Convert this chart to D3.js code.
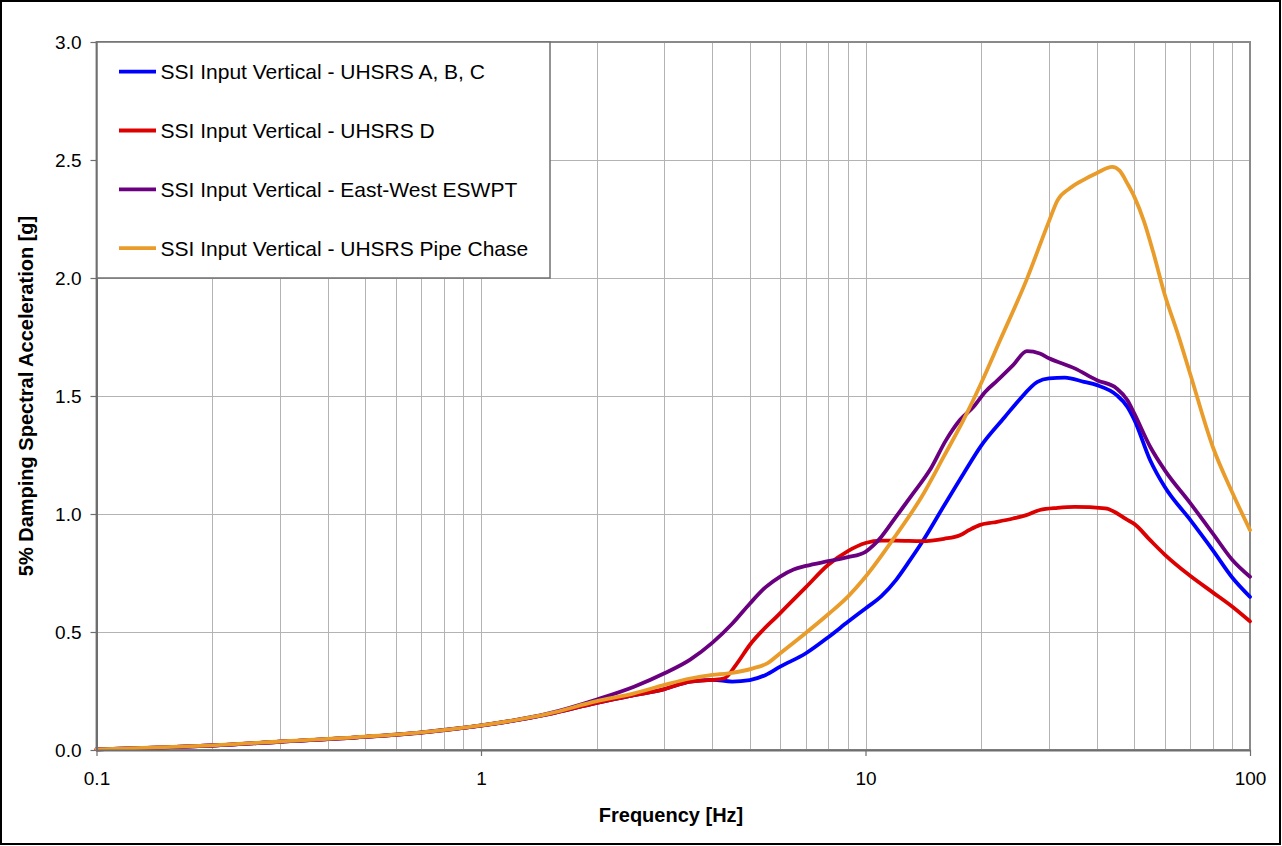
<!DOCTYPE html>
<html>
<head>
<meta charset="utf-8">
<script src="https://cdn.jsdelivr.net/npm/d3@7"></script>
<style>
  html, body { margin: 0; padding: 0; background: #fff; }
  svg { display: block; font-family: Arial, "Liberation Sans", sans-serif; }
</style>
</head>
<body>
<svg id="chart" width="1282" height="846"></svg>
<script>
// Frequency [Hz] and 5%-damped spectral acceleration [g] for each SSI input spectrum
const seriesNames = [
  "SSI Input Vertical - UHSRS A, B, C",
  "SSI Input Vertical - UHSRS D",
  "SSI Input Vertical - East-West ESWPT",
  "SSI Input Vertical - UHSRS Pipe Chase"
];
const seriesColors = ["#0000ff", "#dd0000", "#6a0080", "#e99c2a"];

const freqABC = [0.1, 0.15, 0.2, 0.3, 0.5, 0.7, 1, 1.5, 2, 2.5, 3, 3.5, 4, 4.5, 5, 5.5, 6, 7, 8, 9, 10, 11, 12, 13, 14, 16, 18, 20, 23, 25, 28, 30, 33, 37, 40, 45, 48, 50, 55, 60, 70, 80, 90, 100];
const accABC  = [0.003, 0.011, 0.019, 0.035, 0.056, 0.074, 0.103, 0.152, 0.2, 0.232, 0.258, 0.29, 0.297, 0.29, 0.296, 0.318, 0.353, 0.41, 0.478, 0.543, 0.6, 0.652, 0.72, 0.8, 0.878, 1.035, 1.172, 1.29, 1.41, 1.48, 1.56, 1.575, 1.578, 1.56, 1.546, 1.504, 1.454, 1.4, 1.228, 1.115, 0.974, 0.847, 0.73, 0.649];

const freqD = [0.1, 0.15, 0.2, 0.3, 0.5, 0.7, 1, 1.5, 2, 2.5, 3, 3.5, 4, 4.3, 4.6, 5, 6, 7, 8, 9, 10, 11, 12, 14, 16, 17.6, 18.6, 19.8, 21.5, 24.2, 26.2, 28.4, 31.6, 35, 42, 48, 50, 55, 60, 70, 80, 90, 100];
const accD  = [0.003, 0.011, 0.019, 0.035, 0.056, 0.074, 0.103, 0.152, 0.2, 0.232, 0.258, 0.29, 0.297, 0.304, 0.36, 0.445, 0.58, 0.69, 0.785, 0.843, 0.877, 0.887, 0.887, 0.885, 0.895, 0.91, 0.932, 0.953, 0.964, 0.981, 0.995, 1.017, 1.026, 1.03, 1.024, 0.975, 0.958, 0.889, 0.828, 0.737, 0.668, 0.607, 0.545];

const freqESWPT = [0.1, 0.15, 0.2, 0.3, 0.5, 0.7, 1, 1.5, 2, 2.5, 3, 3.5, 4, 4.5, 5, 5.5, 6, 6.5, 7, 8, 9, 10, 10.5, 11, 12, 13.3, 14.7, 16.2, 17.6, 19.1, 20.5, 22, 24.2, 26.3, 28.4, 30, 35, 40, 45, 48, 50, 55, 60, 70, 80, 90, 100];
const accESWPT  = [0.003, 0.011, 0.019, 0.035, 0.056, 0.075, 0.104, 0.155, 0.214, 0.268, 0.325, 0.383, 0.455, 0.535, 0.62, 0.69, 0.735, 0.765, 0.78, 0.8, 0.817, 0.84, 0.868, 0.904, 0.988, 1.087, 1.186, 1.313, 1.398, 1.454, 1.518, 1.565, 1.631, 1.69, 1.68, 1.66, 1.617, 1.567, 1.532, 1.482, 1.426, 1.285, 1.186, 1.045, 0.918, 0.805, 0.734];

const freqPipe = [0.1, 0.15, 0.2, 0.3, 0.5, 0.7, 1, 1.5, 2, 2.5, 3, 3.5, 4, 4.4, 5.1, 5.55, 6, 6.8, 8, 9, 10, 12, 14, 16, 18, 20, 22.4, 26.2, 30, 31.6, 34, 36.7, 40, 43.8, 45.8, 48, 50, 53, 56, 60, 65, 70, 80, 90, 100];
const accPipe  = [0.003, 0.012, 0.02, 0.036, 0.057, 0.075, 0.104, 0.154, 0.207, 0.24, 0.276, 0.303, 0.318, 0.325, 0.346, 0.367, 0.41, 0.48, 0.575, 0.65, 0.734, 0.91, 1.073, 1.245, 1.4, 1.555, 1.737, 1.99, 2.24, 2.33, 2.38, 2.414, 2.445, 2.471, 2.455, 2.4, 2.345, 2.24, 2.11, 1.93, 1.76, 1.59, 1.285, 1.09, 0.932];

const seriesFreq = [freqABC, freqD, freqESWPT, freqPipe];
const seriesAcc  = [accABC, accD, accESWPT, accPipe];

const xTickValues = [0.1, 1, 10, 100];
const xTickLabels = ["0.1", "1", "10", "100"];
const yTickValues = [0, 0.5, 1.0, 1.5, 2.0, 2.5, 3.0];

const xTitle = "Frequency [Hz]";
const yTitle = "5% Damping Spectral Acceleration [g]";

// ---- layout ----
const svg = d3.select("#chart");
const plot = { left: 96.5, right: 1250, top: 42, bottom: 750 };

const x = d3.scaleLog().domain([0.1, 100]).range([plot.left, plot.right]);
const y = d3.scaleLinear().domain([0, 3]).range([plot.bottom, plot.top]);

// outer border
svg.append("rect")
  .attr("x", 1).attr("y", 1).attr("width", 1279).attr("height", 843)
  .attr("fill", "#fff").attr("stroke", "#000").attr("stroke-width", 2);

// gridlines
const grid = svg.append("g").attr("stroke", "#b3b3b3").attr("stroke-width", 1);
grid.selectAll("line.v").data(x.ticks())
  .join("line").attr("class", "v")
  .attr("x1", d => Math.round(x(d)) + 0.5).attr("x2", d => Math.round(x(d)) + 0.5)
  .attr("y1", plot.top).attr("y2", plot.bottom);
grid.selectAll("line.h").data(yTickValues)
  .join("line").attr("class", "h")
  .attr("x1", plot.left).attr("x2", plot.right)
  .attr("y1", d => Math.round(y(d)) + 0.5).attr("y2", d => Math.round(y(d)) + 0.5);

// plot frame
svg.append("rect")
  .attr("x", plot.left).attr("y", plot.top)
  .attr("width", plot.right - plot.left).attr("height", plot.bottom - plot.top)
  .attr("fill", "none").attr("stroke", "#8a8a8a").attr("stroke-width", 2);

// series lines
const line = d3.line()
  .x(d => x(d[0]))
  .y(d => y(d[1]))
  .curve(d3.curveMonotoneX);

const lines = svg.append("g").attr("fill", "none")
  .attr("stroke-width", 3.8).attr("stroke-linejoin", "round").attr("stroke-linecap", "round");
seriesNames.forEach((name, i) => {
  const pts = seriesFreq[i].map((f, k) => [f, seriesAcc[i][k]]);
  lines.append("path").datum(pts)
    .attr("d", line)
    .attr("stroke", seriesColors[i]);
});

// axes
const xAxis = d3.axisBottom(x)
  .tickValues(xTickValues)
  .tickFormat((d, i) => xTickLabels[i])
  .tickSizeInner(6).tickSizeOuter(0).tickPadding(16);
const gx = svg.append("g").attr("transform", `translate(0,${plot.bottom})`).call(xAxis);

const yAxis = d3.axisLeft(y)
  .tickValues(yTickValues)
  .tickFormat(d3.format(".1f"))
  .tickSizeInner(6).tickSizeOuter(0).tickPadding(9);
const gy = svg.append("g").attr("transform", `translate(${plot.left},0)`).call(yAxis);

[gx, gy].forEach(g => {
  g.select(".domain").attr("stroke", "#6e6e6e").attr("stroke-width", 2);
  g.selectAll(".tick line").attr("stroke", "#6e6e6e").attr("stroke-width", 1.2);
  g.selectAll(".tick text")
    .attr("font-family", "Arial, 'Liberation Sans', sans-serif")
    .attr("font-size", 19).attr("fill", "#000");
});

// axis titles
svg.append("text")
  .attr("x", 671).attr("y", 822)
  .attr("text-anchor", "middle")
  .attr("font-size", 20).attr("font-weight", "bold")
  .text(xTitle);

svg.append("text")
  .attr("transform", `translate(33,${(plot.top + plot.bottom) / 2}) rotate(-90)`)
  .attr("text-anchor", "middle")
  .attr("font-size", 20).attr("font-weight", "bold")
  .text(yTitle);

// legend
const legend = svg.append("g");
legend.append("rect")
  .attr("x", 97).attr("y", 42).attr("width", 453).attr("height", 236)
  .attr("fill", "#fff").attr("stroke", "#707070").attr("stroke-width", 1.5);

const legendRows = legend.selectAll("g.row").data(seriesNames)
  .join("g").attr("class", "row")
  .attr("transform", (d, i) => `translate(0,${71.7 + i * 58.8})`);
legendRows.append("line")
  .attr("x1", 119).attr("x2", 156).attr("y1", 0).attr("y2", 0)
  .attr("stroke", (d, i) => seriesColors[i]).attr("stroke-width", 3.8);
legendRows.append("text")
  .attr("x", 160.5).attr("y", 7.5)
  .attr("font-size", 21).attr("fill", "#000")
  .text(d => d);
</script>
</body>
</html>
